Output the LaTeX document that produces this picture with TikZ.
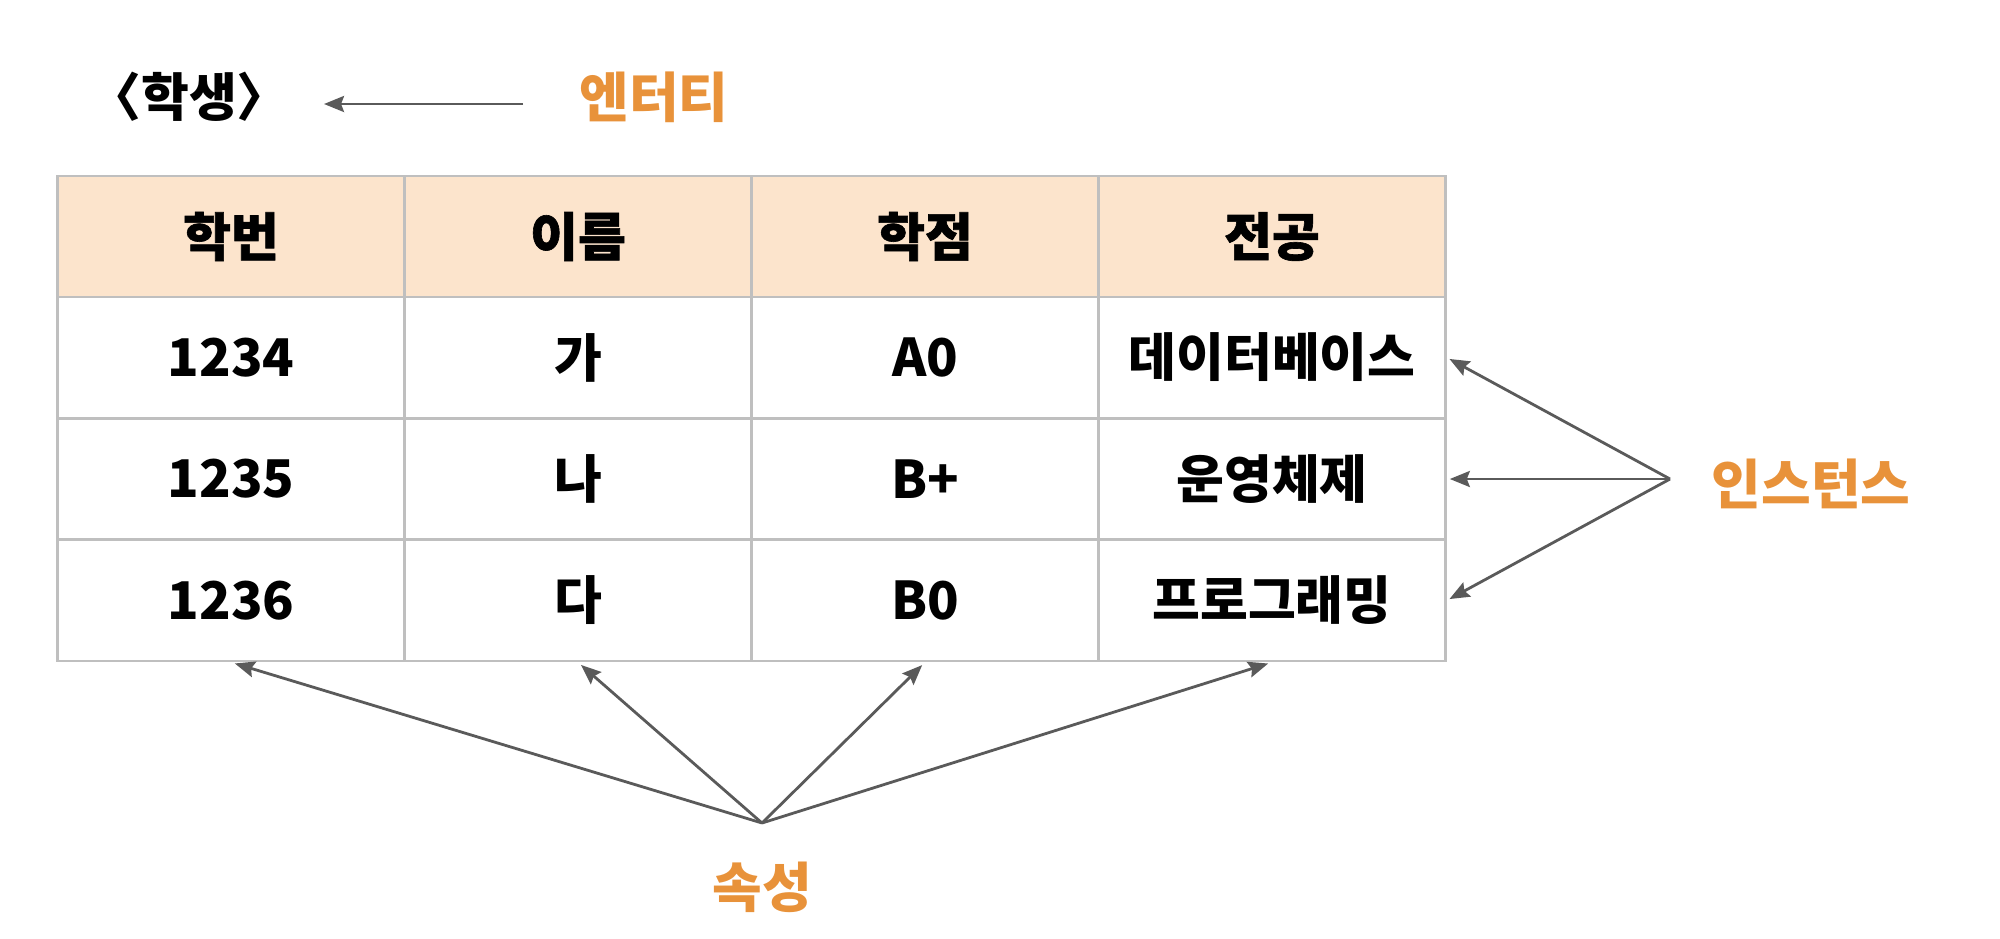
\documentclass[tikz,border=0pt]{standalone}
\usepackage{fontspec}
\setmainfont{Noto Sans CJK KR}
\newfontfamily\hdrfont{Noto Sans CJK KR}[BoldFeatures={FakeBold=1.2}]
\usetikzlibrary{arrows.meta}
\definecolor{hdr}{HTML}{FCE4CC}
\definecolor{gridc}{HTML}{BFBFBF}
\definecolor{arr}{HTML}{5A5A5A}
\definecolor{org}{HTML}{E8923A}
\begin{document}
\begin{tikzpicture}[x=0.5pt,y=-0.5pt,
  cell/.style={draw=gridc, line width=1.3pt, minimum width=173.5pt, minimum height=60.5pt, inner sep=0pt, font=\bfseries\fontsize{26pt}{26pt}\selectfont},
  hcell/.style={cell, fill=hdr, font=\hdrfont\bfseries\fontsize{26pt}{26pt}\selectfont},
  lbl/.style={text=org, font=\bfseries\fontsize{27pt}{27pt}\selectfont, inner sep=0pt},
  pointer/.style={draw=arr, line width=1.4pt, -{Stealth[length=10pt,width=8pt,inset=1.5pt]}}]
\useasboundingbox (0,0) rectangle (2000,938);
% header
\node[hcell] (h1) at (231,236.5) {학번};
\node[hcell] (h2) at (578,236.5) {이름};
\node[hcell] (h3) at (925,236.5) {학점};
\node[hcell] (h4) at (1272,236.5) {전공};
% rows
\node[cell] (c11) at (231,357.5) {1234};
\node[cell] (c12) at (578,357.5) {가};
\node[cell] (c13) at (925,357.5) {A0};
\node[cell] (c14) at (1272,357.5) {데이터베이스};
\node[cell] (c21) at (231,479) {1235};
\node[cell] (c22) at (578,479) {나};
\node[cell] (c23) at (925,479) {B+};
\node[cell] (c24) at (1272,479) {운영체제};
\node[cell] (c31) at (231,600.5) {1236};
\node[cell] (c32) at (578,600.5) {다};
\node[cell] (c33) at (925,600.5) {B0};
\node[cell] (c34) at (1272,600.5) {프로그래밍};
% entity
\node[font=\bfseries\fontsize{26pt}{26pt}\selectfont, inner sep=0pt] (ent) at (189,97) {〈학생〉};
\node[lbl] (entl) at (654,97) {엔터티};
\coordinate (entA) at (523,104);
\coordinate (entB) at (324,104);
\draw[pointer] (entA) -- (entB);
% instances
\coordinate (insp) at (1670,479);
\node[lbl] (ins) at (1811,484) {인스턴스};
\draw[pointer, shorten >=1.5pt] (insp) -- (c14.east);
\draw[pointer, shorten >=1.5pt] (insp) -- (c24.east);
\draw[pointer, shorten >=1.5pt] (insp) -- (c34.east);
% attributes
\coordinate (attp) at (762,823);
\node[lbl] (att) at (762,887) {속성};
\draw[pointer, shorten >=2pt] (attp) -- (c31.south);
\draw[pointer, shorten >=2pt] (attp) -- (c32.south);
\draw[pointer, shorten >=2pt] (attp) -- (c33.south);
\draw[pointer, shorten >=2pt] (attp) -- (c34.south);
\end{tikzpicture}
\end{document}
